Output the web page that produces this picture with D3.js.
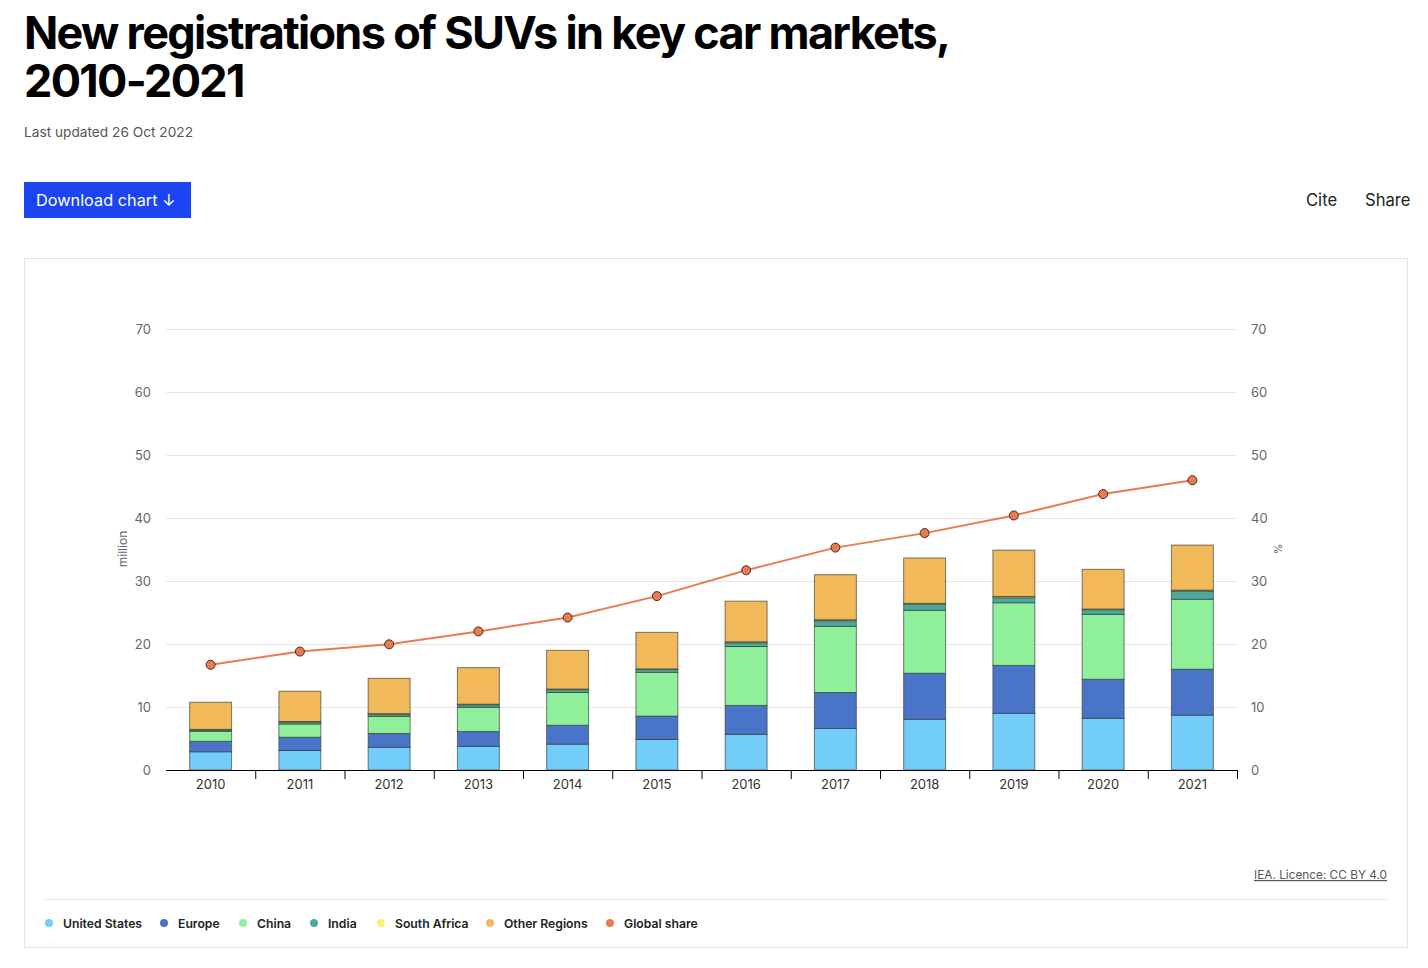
<!DOCTYPE html>
<html>
<head>
<meta charset="utf-8">
<script src="https://cdn.jsdelivr.net/npm/d3@7"></script>
<style>
  body { margin: 0; background: #fff; font-family: Inter, "Noto Sans", sans-serif; }
  svg { display: block; }
</style>
</head>
<body>
<main></main>
<script>
// chart data
let years = ["2010","2011","2012","2013","2014","2015","2016","2017","2018","2019","2020","2021"]
let unitedStates = [2.9, 3.1, 3.6, 3.75, 4.1, 4.85, 5.65, 6.6, 8.05, 9.0, 8.2, 8.7]
let europe = [1.65, 2.1, 2.2, 2.35, 3.0, 3.7, 4.6, 5.7, 7.3, 7.6, 6.2, 7.3]
let china = [1.6, 2.1, 2.7, 3.85, 5.2, 6.95, 9.35, 10.5, 10.0, 9.95, 10.3, 11.1]
let india = [0.2, 0.3, 0.3, 0.4, 0.45, 0.45, 0.6, 0.9, 0.95, 0.8, 0.75, 1.3]
let southAfrica = [0.1, 0.1, 0.15, 0.1, 0.1, 0.1, 0.15, 0.15, 0.15, 0.2, 0.1, 0.15]
let otherRegions = [4.3, 4.8, 5.6, 5.8, 6.15, 5.8, 6.45, 7.15, 7.2, 7.35, 6.3, 7.15]
let globalShare = [16.7, 18.8, 19.95, 22.0, 24.2, 27.6, 31.7, 35.3, 37.6, 40.4, 43.8, 46.0]
let yTicks = [0, 10, 20, 30, 40, 50, 60, 70]

let seriesNames = ["United States", "Europe", "China", "India", "South Africa", "Other Regions"]
let seriesColors = ["#72cdf9", "#4a74c8", "#90ef9a", "#4ca89c", "#fdf06a", "#f2b95b"]
let lineColor = "#e77c52"

let svg = d3.select('main')
    .append('svg')
    .attr('width', 1428)
    .attr('height', 968)

// header
svg.append('text')
    .attr('x', 24).attr('y', 49)
    .style('font-size', '45px').style('font-weight', 700)
    .style('letter-spacing', '-1.7px')
    .style('fill', '#000')
    .text('New registrations of SUVs in key car markets,')
svg.append('text')
    .attr('x', 24).attr('y', 97)
    .style('font-size', '45px').style('font-weight', 700)
    .style('letter-spacing', '-1.7px')
    .style('fill', '#000')
    .text('2010-2021')
svg.append('text')
    .attr('x', 24).attr('y', 137)
    .style('font-size', '13.7px').style('fill', '#555')
    .text('Last updated 26 Oct 2022')

svg.append('rect')
    .attr('x', 24).attr('y', 182)
    .attr('width', 167).attr('height', 36)
    .style('fill', '#1b45f2')
svg.append('text')
    .attr('x', 36).attr('y', 206)
    .style('font-size', '16.3px').style('fill', '#fff')
    .text('Download chart  ↓')
svg.append('text')
    .attr('x', 1306).attr('y', 206)
    .style('font-size', '16.6px').style('fill', '#222')
    .text('Cite')
svg.append('text')
    .attr('x', 1365).attr('y', 206)
    .style('font-size', '16.6px').style('fill', '#222')
    .text('Share')

// chart frame
svg.append('rect')
    .attr('x', 24.5).attr('y', 258.5)
    .attr('width', 1383).attr('height', 689)
    .style('fill', 'none').style('stroke', '#e2e2e2')

let plotLeft = 166, plotRight = 1237, plotTop = 329, plotBottom = 770

let x = d3.scaleBand().domain(years).range([plotLeft, plotRight]).paddingInner(0.53).paddingOuter(0.265)
let xStep = d3.scaleBand().domain(years).range([plotLeft, plotRight])
let y = d3.scaleLinear().domain([0, 70]).range([plotBottom, plotTop])
let yRight = d3.scaleLinear().domain([0, 70]).range([plotBottom, plotTop])

// gridlines
svg.append('g')
    .selectAll('line')
    .data(yTicks.filter(d => d > 0))
    .join('line')
    .attr('x1', plotLeft).attr('x2', plotRight)
    .attr('y1', d => y(d) + 0.5).attr('y2', d => y(d) + 0.5)
    .style('stroke', '#e6e6e6')

// left axis
let leftAxis = svg.append('g')
    .attr('transform', `translate(${plotLeft},0)`)
    .call(d3.axisLeft(y).tickValues(yTicks).tickSize(0).tickPadding(15))
leftAxis.select('.domain').remove()
leftAxis.selectAll('text').style('font-size', '13px').style('fill', '#666').style('font-family', 'Inter')

let rightAxis = svg.append('g')
    .attr('transform', `translate(${plotRight},0)`)
    .call(d3.axisRight(yRight).tickValues(yTicks).tickSize(0).tickPadding(14))
rightAxis.select('.domain').remove()
rightAxis.selectAll('text').style('font-size', '13px').style('fill', '#666').style('font-family', 'Inter')

svg.append('text')
    .attr('transform', 'translate(127,549) rotate(-90)')
    .attr('text-anchor', 'middle')
    .style('font-size', '12px').style('fill', '#666')
    .text('million')
svg.append('text')
    .attr('transform', 'translate(1274,549) rotate(90)')
    .attr('text-anchor', 'middle')
    .style('font-size', '11px').style('fill', '#666')
    .text('%')

// stacked bars
let rows = years.map((yr, i) => ({
  year: yr,
  "United States": unitedStates[i],
  "Europe": europe[i],
  "China": china[i],
  "India": india[i],
  "South Africa": southAfrica[i],
  "Other Regions": otherRegions[i]
}))
let stacked = d3.stack().keys(seriesNames)(rows)

svg.append('g')
    .selectAll('g')
    .data(stacked)
    .join('g')
    .style('fill', (d, i) => seriesColors[i])
    .selectAll('rect')
    .data(d => d)
    .join('rect')
    .attr('x', d => x(d.data.year))
    .attr('width', x.bandwidth())
    .attr('y', d => y(d[1]))
    .attr('height', d => y(d[0]) - y(d[1]))
    .style('stroke', '#2e3a33')
    .style('stroke-opacity', 0.65)
    .style('stroke-width', 1)

// x axis
let xAxis = svg.append('g')
    .attr('transform', `translate(0,${plotBottom})`)
xAxis.append('line')
    .attr('x1', plotLeft).attr('x2', plotRight + 0.5)
    .attr('y1', 0.5).attr('y2', 0.5)
    .style('stroke', '#000')
xAxis.selectAll('line.tick')
    .data(years)
    .join('line')
    .attr('class', 'tick')
    .attr('x1', d => xStep(d) + xStep.bandwidth() + 0.5)
    .attr('x2', d => xStep(d) + xStep.bandwidth() + 0.5)
    .attr('y1', 0).attr('y2', 9)
    .style('stroke', '#000')
xAxis.selectAll('text')
    .data(years)
    .join('text')
    .attr('x', d => x(d) + x.bandwidth() / 2)
    .attr('y', 19)
    .attr('text-anchor', 'middle')
    .style('font-size', '13px').style('fill', '#333')
    .text(d => d)

// global share line
let line = d3.line()
    .x((d, i) => x(years[i]) + x.bandwidth() / 2)
    .y(d => yRight(d))
svg.append('path')
    .datum(globalShare)
    .attr('d', line)
    .style('fill', 'none')
    .style('stroke', lineColor)
    .style('stroke-width', 2)
svg.append('g')
    .selectAll('circle')
    .data(globalShare)
    .join('circle')
    .attr('cx', (d, i) => x(years[i]) + x.bandwidth() / 2)
    .attr('cy', d => yRight(d))
    .attr('r', 4.5)
    .style('fill', lineColor)
    .style('stroke', '#4a2a1e')
    .style('stroke-width', 1)

// credit + legend
svg.append('text')
    .attr('x', 1387).attr('y', 879)
    .attr('text-anchor', 'end')
    .style('font-size', '11.8px').style('fill', '#555')
    .style('text-decoration', 'underline')
    .text('IEA. Licence: CC BY 4.0')
svg.append('line')
    .attr('x1', 45).attr('x2', 1387)
    .attr('y1', 899.5).attr('y2', 899.5)
    .style('stroke', '#e2e2e2')

let legendNames = seriesNames.concat(['Global share'])
let legendColors = seriesColors.concat([lineColor])
let legendX = [49, 164, 243, 314, 381, 490, 610]
let legend = svg.append('g')
    .selectAll('g')
    .data(legendNames)
    .join('g')
    .attr('transform', (d, i) => `translate(${legendX[i]},923)`)
legend.append('circle')
    .attr('r', 4)
    .style('fill', (d, i) => legendColors[i])
legend.append('text')
    .attr('x', 14).attr('y', 4.5)
    .style('font-size', '12.2px').style('font-weight', 600).style('fill', '#222')
    .text(d => d)
</script>
</body>
</html>
